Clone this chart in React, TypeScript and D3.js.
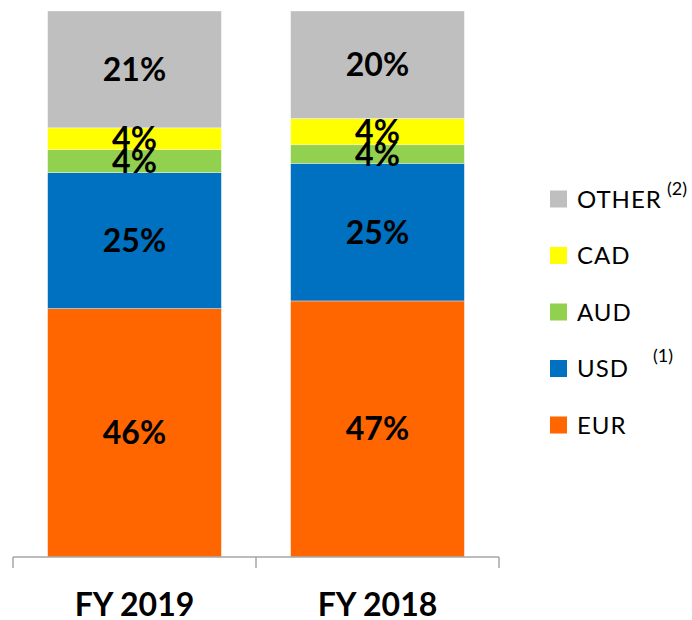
import React, { useRef, useEffect } from 'react';
import * as d3 from "d3";

const years = ['FY 2019', 'FY 2018'];
const currencies = ['EUR', 'USD', 'AUD', 'CAD', 'OTHER'];
const legendNotes = ['', '(1)', '', '', '(2)'];
const colors = ['#FF6600', '#0070C0', '#92D050', '#FFFF00', '#BFBFBF'];
// share of each currency, bottom to top
const eur = [45.5, 46.9];
const usd = [24.9, 25.2];
const aud = [4.2, 3.4];
const cad = [4.0, 4.8];
const other = [21.4, 19.7];
const eurLabels = ['46%', '47%'];
const usdLabels = ['25%', '25%'];
const audLabels = ['4%', '4%'];
const cadLabels = ['4%', '4%'];
const otherLabels = ['21%', '20%'];

export default function App() {
  const ref = useRef<SVGSVGElement>(null);
  const width = 692;
  const height = 620;

  useEffect(() => {
    const svg = d3.select(ref.current);
    svg.selectAll('*').remove();

    const font = "Lato, 'Open Sans', sans-serif";

    //----------- scales ----------//
    const xScale = d3.scaleBand<string>().domain(years).range([13, 499]).padding(0);
    const yScale = d3.scaleLinear().domain([0, 100]).range([557, 11]);
    const barW = xScale.bandwidth() * 0.715;

    const table = years.map((y, i) => ({
      year: y,
      EUR: eur[i], USD: usd[i], AUD: aud[i], CAD: cad[i], OTHER: other[i],
      labels: [eurLabels[i], usdLabels[i], audLabels[i], cadLabels[i], otherLabels[i]]
    }));

    const stacked = d3.stack<any>().keys(currencies)(table);

    //----------- bars ----------//
    const layers = svg.append('g')
      .selectAll('g')
      .data(stacked)
      .join('g')
      .attr('fill', (d, i) => colors[i]);

    layers.selectAll('rect')
      .data(d => d)
      .join('rect')
      .attr('x', (d: any) => xScale(d.data.year)! + (xScale.bandwidth() - barW) / 2)
      .attr('width', barW)
      .attr('y', d => yScale(d[1]))
      .attr('height', d => yScale(d[0]) - yScale(d[1]))
      .attr('stroke', 'white')
      .attr('stroke-width', 0.6)
      .attr('stroke-opacity', 0.6);

    //----------- value labels ----------//
    stacked.forEach((layer, li) => {
      svg.append('g')
        .selectAll('text')
        .data(layer)
        .join('text')
        .attr('x', (d: any) => xScale(d.data.year)! + xScale.bandwidth() / 2)
        .attr('y', d => (yScale(d[0]) + yScale(d[1])) / 2)
        .attr('dy', '0.36em')
        .attr('text-anchor', 'middle')
        .style('font-family', font)
        .style('font-weight', 'bold')
        .style('font-size', '32px')
        .attr('fill', '#000')
        .text((d: any) => d.data.labels[li]);
    });

    //----------- axis ----------//
    const axis = svg.append('g').attr('stroke', '#A6A6A6').attr('stroke-width', 1.5);
    axis.append('line')
      .attr('x1', 13).attr('x2', 499)
      .attr('y1', yScale(0)).attr('y2', yScale(0));
    const ticks = [...years.map(y => xScale(y)!), 499];
    axis.selectAll('line.tick')
      .data(ticks)
      .join('line')
      .attr('class', 'tick')
      .attr('x1', d => d).attr('x2', d => d)
      .attr('y1', yScale(0)).attr('y2', yScale(0) + 11);

    svg.append('g')
      .selectAll('text')
      .data(years)
      .join('text')
      .attr('x', d => xScale(d)! + xScale.bandwidth() / 2)
      .attr('y', 616)
      .attr('text-anchor', 'middle')
      .style('font-family', font)
      .style('font-weight', 'bold')
      .style('font-size', '32px')
      .attr('fill', '#000')
      .text(d => d);

    //----------- legend ----------//
    const legendOrder = [4, 3, 2, 1, 0];
    const legend = svg.append('g')
      .selectAll('g')
      .data(legendOrder)
      .join('g')
      .attr('transform', (d, i) => `translate(550,${199 + i * 56.5})`);

    legend.append('rect')
      .attr('x', 0).attr('y', -8.5)
      .attr('width', 17).attr('height', 17)
      .attr('fill', d => colors[d]);

    legend.append('text')
      .attr('x', 27)
      .attr('y', 0)
      .attr('dy', '0.36em')
      .style('font-family', font)
      .style('font-size', '24px')
      .style('letter-spacing', '1px')
      .attr('fill', '#000')
      .text(d => currencies[d]);

    legend.append('text')
      .attr('x', d => d === 4 ? 117 : 103)
      .attr('y', d => d === 4 ? -4 : -7)
      .style('font-family', font)
      .style('font-size', '18px')
      .attr('fill', '#000')
      .text(d => legendNotes[d]);
  }, []);

  return (
    <svg ref={ref} width={width} height={height}
      style={{ position: 'absolute', left: 0, top: 0, background: 'white' }}>
    </svg>
  );
}
